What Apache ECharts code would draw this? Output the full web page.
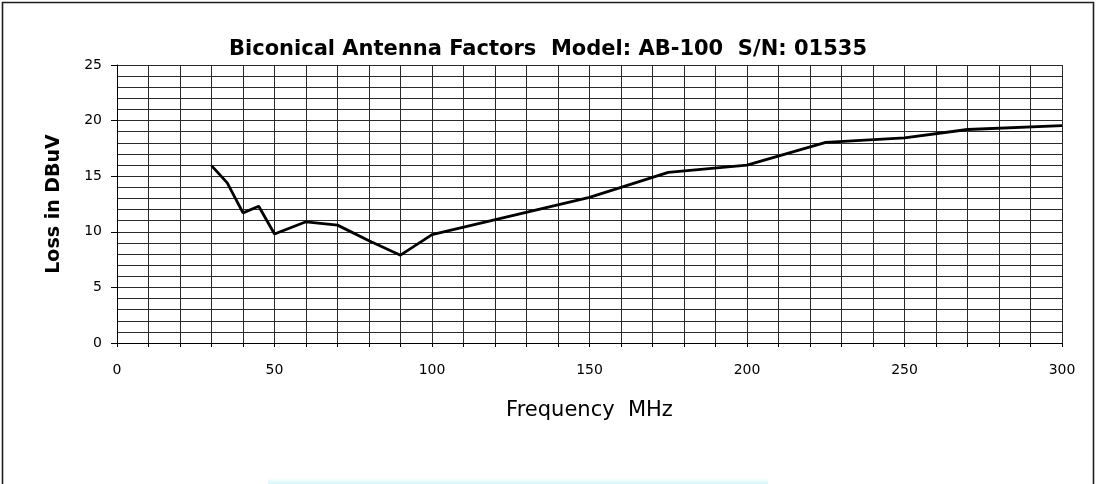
<!DOCTYPE html>
<html>
<head>
<meta charset="utf-8">
<script src="https://cdn.jsdelivr.net/npm/echarts@6/dist/echarts.min.js"></script>
<style>
html,body{margin:0;padding:0;background:#fff;}
#chart{width:1096px;height:484px;}
</style>
</head>
<body>
<div id="chart"></div>
<script>
// ---- data ----
const titleText = 'Biconical Antenna Factors  Model: AB-100  S/N: 01535';
const xAxisName = 'Frequency  MHz';
const yAxisName = 'Loss in DBuV';
const frequencyMHz = [30, 35, 40, 45, 50, 60, 70, 80, 90, 100, 150, 175, 200, 225, 250, 270, 300];
const lossDBuV     = [15.95, 14.4, 11.7, 12.3, 9.8, 10.9, 10.6, 9.2, 7.9, 9.75, 13.1, 15.35, 16.0, 18.05, 18.45, 19.2, 19.55];
const xTicks = {min: 0, max: 300, interval: 50};
const yTicks = {min: 0, max: 25, interval: 5};

const points = frequencyMHz.map((f, i) => [f, lossDBuV[i]]);
const gridColor = '#2a2a2a';
const font = 'DejaVu Sans';

const chart = echarts.init(document.getElementById('chart'), null, {renderer: 'canvas'});
chart.setOption({
  animation: false,
  backgroundColor: '#fff',
  title: {
    text: titleText,
    left: 'center',
    top: 34,
    textStyle: {fontFamily: font, fontWeight: 'bold', fontSize: 21, color: '#000'}
  },
  grid: {left: 117, right: 34, top: 65, bottom: 141, containLabel: false},
  xAxis: {
    type: 'value',
    min: xTicks.min, max: xTicks.max, interval: xTicks.interval,
    name: xAxisName,
    nameLocation: 'middle',
    nameGap: 57,
    nameTextStyle: {fontFamily: font, fontSize: 21, color: '#000'},
    axisLine: {show: true, lineStyle: {color: '#000', width: 1}},
    axisTick: {show: true, length: 4, lineStyle: {color: '#000'}},
    minorTick: {show: true, splitNumber: 5, length: 4, lineStyle: {color: '#000'}},
    axisLabel: {fontFamily: font, fontSize: 14, color: '#000', margin: 20},
    splitLine: {show: true, lineStyle: {color: gridColor, width: 1}},
    minorSplitLine: {show: true, lineStyle: {color: gridColor, width: 1}}
  },
  yAxis: {
    type: 'value',
    min: yTicks.min, max: yTicks.max, interval: yTicks.interval,
    name: yAxisName,
    nameLocation: 'middle',
    nameGap: 53,
    nameRotate: 90,
    nameTextStyle: {fontFamily: font, fontWeight: 'bold', fontSize: 19, color: '#000'},
    axisLine: {show: true, lineStyle: {color: '#000', width: 1}},
    axisTick: {show: true, length: 6, lineStyle: {color: '#000'}},
    minorTick: {show: false, splitNumber: 5},
    axisLabel: {fontFamily: font, fontSize: 14, color: '#000', margin: 15},
    splitLine: {show: true, lineStyle: {color: gridColor, width: 1}},
    minorSplitLine: {show: true, lineStyle: {color: gridColor, width: 1}}
  },
  series: [{
    type: 'line',
    data: points,
    showSymbol: false,
    symbol: 'none',
    lineStyle: {color: '#000', width: 2.8},
    z: 5
  }],
  graphic: [{
    type: 'rect',
    shape: {x: 2.5, y: 2.5, width: 1091, height: 495},
    style: {fill: 'none', stroke: '#1e1e1e', lineWidth: 1.6},
    silent: true
  }, {
    type: 'rect',
    shape: {x: 268, y: 478, width: 500, height: 6},
    style: {
      fill: new echarts.graphic.LinearGradient(0, 0, 0, 1, [
        {offset: 0, color: 'rgba(215,248,252,0)'},
        {offset: 1, color: 'rgba(205,244,250,0.9)'}
      ])
    },
    silent: true
  }]
});
</script>
</body>
</html>
